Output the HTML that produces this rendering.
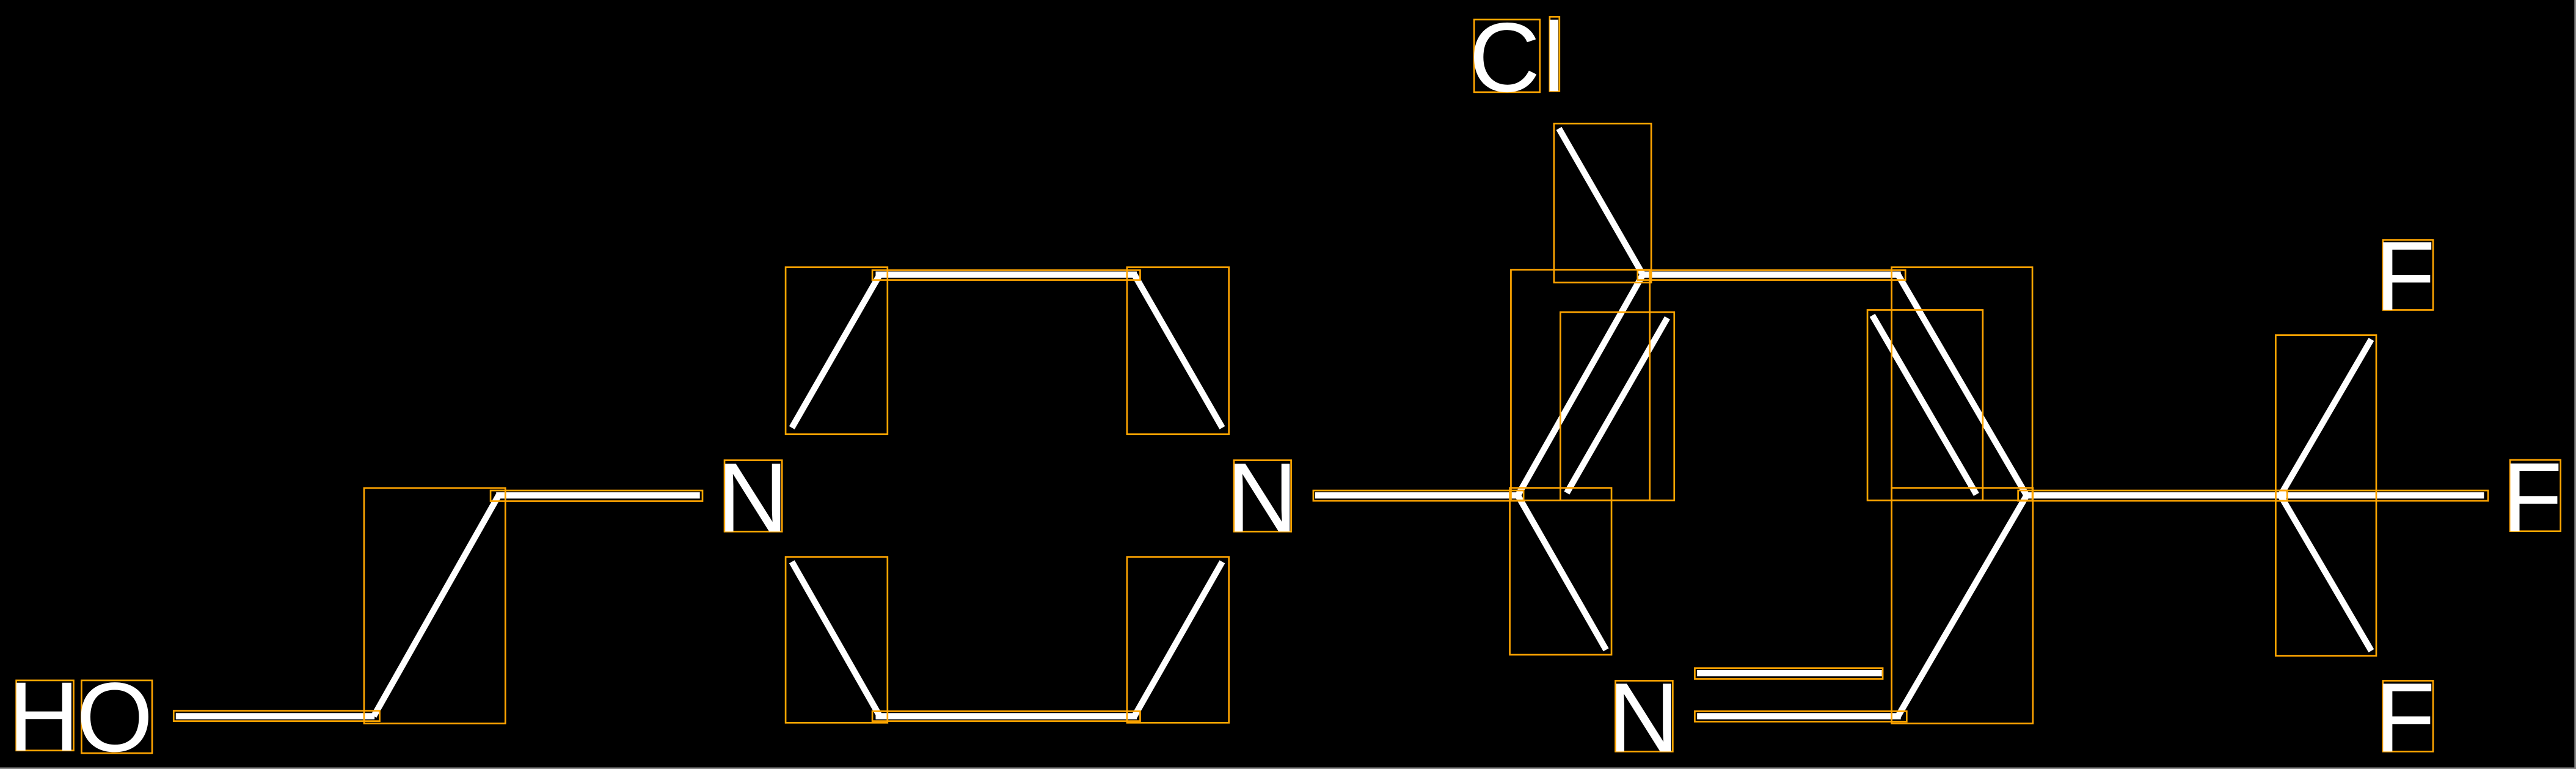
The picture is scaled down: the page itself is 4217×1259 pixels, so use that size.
<!DOCTYPE html>
<html><head><meta charset="utf-8"><style>
html,body{margin:0;padding:0;background:#000;overflow:hidden;}
svg{display:block;}
text{font-family:"Liberation Sans",sans-serif;fill:#fff;font-size:60px;}
</style></head><body>
<svg width="4217" height="1259" viewBox="0 0 1568 468.15" preserveAspectRatio="none" xmlns="http://www.w3.org/2000/svg">
<rect x="0" y="0" width="1568" height="468.15" fill="#000"/>
<rect x="1567" y="0" width="1.2" height="468.15" fill="#888"/>
<rect x="0" y="467.2" width="1568" height="1" fill="#888"/>
<g stroke="#fff" stroke-width="3.8" fill="none" stroke-linecap="butt">
<line x1="107" y1="436" x2="228" y2="436"/>
<line x1="227.5" y1="436" x2="303.5" y2="301.6"/>
<line x1="302" y1="301.6" x2="426" y2="301.6"/>
<line x1="482" y1="260.4" x2="535.5" y2="167.2"/>
<line x1="533" y1="167.2" x2="692" y2="167.2"/>
<line x1="690.5" y1="167.2" x2="744" y2="260.4"/>
<line x1="482" y1="342" x2="535.5" y2="436"/>
<line x1="533" y1="436" x2="692" y2="436"/>
<line x1="690.5" y1="436" x2="744" y2="342"/>
<line x1="800.5" y1="301.6" x2="924" y2="301.6"/>
<line x1="923.9" y1="301.6" x2="1000" y2="167.2"/>
<line x1="953.7" y1="300.1" x2="1014.9" y2="193.5"/>
<line x1="948.9" y1="78.2" x2="1000" y2="167.2"/>
<line x1="998" y1="167.2" x2="1157" y2="167.2"/>
<line x1="1155.3" y1="167.2" x2="1233.6" y2="301.6"/>
<line x1="1139.7" y1="192" x2="1203" y2="301"/>
<line x1="1233.6" y1="301.6" x2="1155.3" y2="436"/>
<line x1="923.9" y1="301.6" x2="977.6" y2="395.6"/>
<line x1="1033" y1="436" x2="1157" y2="436"/>
<line x1="1033" y1="409.8" x2="1145.5" y2="409.8"/>
<line x1="1232" y1="301.6" x2="1512" y2="301.6"/>
<line x1="1388.1" y1="301.6" x2="1443.4" y2="206.6"/>
<line x1="1388.1" y1="301.6" x2="1443.4" y2="396.2"/>
</g>
<g stroke="#ffa500" stroke-width="1" fill="none">
<rect x="9.9" y="414.2" width="34.9" height="42.7"/>
<rect x="49.6" y="414.2" width="43" height="44.3"/>
<rect x="105.7" y="432.7" width="125.4" height="6.3"/>
<rect x="221.6" y="297.1" width="86" height="143.3"/>
<rect x="298.6" y="298.6" width="129" height="6.5"/>
<rect x="441" y="280.2" width="35" height="43.4"/>
<rect x="478.2" y="162.7" width="62" height="101.6"/>
<rect x="531" y="164.5" width="163" height="6"/>
<rect x="686" y="162.7" width="62" height="101.6"/>
<rect x="478.2" y="339" width="62" height="101"/>
<rect x="531" y="433" width="163" height="6"/>
<rect x="686" y="339" width="62" height="101"/>
<rect x="751.1" y="280.2" width="34.8" height="43.4"/>
<rect x="799.4" y="298.6" width="128" height="6.3"/>
<rect x="897.3" y="11.9" width="40" height="44.2"/>
<rect x="943.3" y="10.2" width="5.9" height="45.3"/>
<rect x="945.9" y="75.2" width="59.2" height="96.8"/>
<rect x="919.7" y="164.2" width="84.5" height="140.4"/>
<rect x="949.8" y="190" width="69.3" height="114.6"/>
<rect x="996.8" y="164.5" width="163" height="6"/>
<rect x="919" y="297" width="61.9" height="101.6"/>
<rect x="983.3" y="414.4" width="34.9" height="43.1"/>
<rect x="1031.6" y="406.7" width="114.4" height="6.6"/>
<rect x="1031.6" y="433" width="129" height="6.3"/>
<rect x="1151.4" y="162.7" width="85.7" height="141.9"/>
<rect x="1136.7" y="188.7" width="70.2" height="115.9"/>
<rect x="1151.4" y="297" width="86" height="143.4"/>
<rect x="1228.4" y="298.6" width="286.1" height="6.3"/>
<rect x="1385.2" y="204" width="61.2" height="195.2"/>
<rect x="1385.2" y="298.6" width="7" height="6.3"/>
<rect x="1450.5" y="146" width="30.5" height="42.7"/>
<rect x="1527.9" y="280" width="30.7" height="43.4"/>
<rect x="1450.5" y="414.4" width="30.5" height="43.1"/>
</g>
<text x="5" y="456.9">H</text>
<text x="46.5" y="457.3">O</text>
<text x="436.5" y="323.6">N</text>
<text x="746.6" y="323.6">N</text>
<text x="978.8" y="457.5">N</text>
<text x="894.2" y="55.6">C</text>
<text x="939.2" y="55.5">l</text>
<text x="1445.7" y="188.7">F</text>
<text x="1523.1" y="323.4">F</text>
<text x="1445.7" y="457.5">F</text>
</svg>
</body></html>
